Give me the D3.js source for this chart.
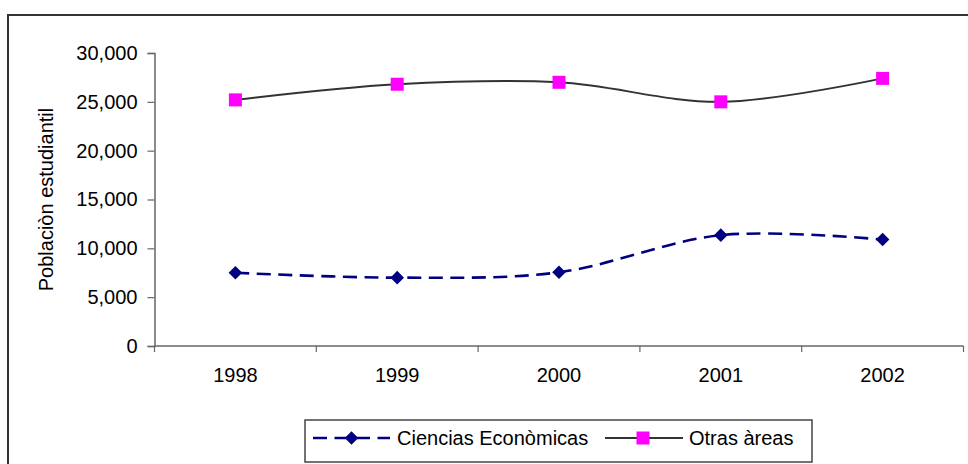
<!DOCTYPE html>
<html>
<head>
<meta charset="utf-8">
<script src="https://cdn.jsdelivr.net/npm/d3@7"></script>
<style>
  html, body { margin: 0; padding: 0; background: #fff; }
  svg { display: block; }
  text { font-family: Arial, "Liberation Sans", sans-serif; fill: #000; }
</style>
</head>
<body>
<svg id="chart" width="968" height="464"></svg>
<script>
// Student population by year
const years = ["1998", "1999", "2000", "2001", "2002"];
const cienciasEconomicas = [7500, 7000, 7550, 11350, 10900];
const otrasAreas = [25200, 26800, 27000, 25000, 27400];
const yTicks = [0, 5000, 10000, 15000, 20000, 25000, 30000];
const seriesNames = ["Ciencias Econòmicas", "Otras àreas"];
const yTitle = "Poblaciòn estudiantil";

const svg = d3.select("#chart");
const W = 968, H = 464;

// outer chart frame (runs off the right and bottom edges)
svg.append("rect")
  .attr("x", 8).attr("y", 15)
  .attr("width", 1000).attr("height", 500)
  .attr("fill", "none").attr("stroke", "#333").attr("stroke-width", 2);

const plot = { left: 154.5, right: 963.5, top: 53, bottom: 346 };

const x = d3.scaleBand().domain(years).range([plot.left, plot.right]).padding(0);
const y = d3.scaleLinear().domain([0, 30000]).range([plot.bottom, plot.top]);

const axisColor = "#666";

// y axis
const yAxis = svg.append("g")
  .attr("transform", `translate(${plot.left},0)`)
  .call(d3.axisLeft(y).tickValues(yTicks).tickFormat(d3.format(",")).tickSize(7).tickPadding(10));
yAxis.select(".domain").attr("stroke", axisColor).attr("stroke-width", 1.5);
yAxis.selectAll(".tick line").attr("stroke", axisColor).attr("stroke-width", 1.2);
yAxis.selectAll(".tick text")
  .attr("font-size", 20).attr("fill", "#000")
  .style("font-family", "Arial, 'Liberation Sans', sans-serif");

// x axis: labels centred on categories, ticks at category boundaries
const xAxis = svg.append("g")
  .attr("transform", `translate(0,${plot.bottom})`)
  .call(d3.axisBottom(x).tickSize(0).tickPadding(22));
xAxis.select(".domain").remove();
xAxis.selectAll(".tick text")
  .attr("font-size", 20).attr("fill", "#000")
  .style("font-family", "Arial, 'Liberation Sans', sans-serif");

const boundaries = years.map(d => x(d)).concat([x(years[years.length - 1]) + x.bandwidth()]);
svg.append("line")
  .attr("x1", plot.left).attr("x2", plot.right)
  .attr("y1", plot.bottom).attr("y2", plot.bottom)
  .attr("stroke", axisColor).attr("stroke-width", 1.5);
svg.append("g").selectAll("line").data(boundaries).join("line")
  .attr("x1", d => d).attr("x2", d => d)
  .attr("y1", plot.bottom).attr("y2", plot.bottom + 6)
  .attr("stroke", axisColor).attr("stroke-width", 1.2);

// y axis title
svg.append("text")
  .attr("transform", `translate(53,${(plot.top + plot.bottom) / 2}) rotate(-90)`)
  .attr("text-anchor", "middle")
  .attr("font-size", 20)
  .text(yTitle);

// series lines
const line = d3.line()
  .x((d, i) => x(years[i]) + x.bandwidth() / 2)
  .y(d => y(d))
  .curve(d3.curveCatmullRom.alpha(0));

const navy = "#000080", magenta = "#FF00FF";
const dash = "14,7.5";

svg.append("path").datum(otrasAreas)
  .attr("d", line).attr("fill", "none")
  .attr("stroke", "#333").attr("stroke-width", 2);

svg.append("path").datum(cienciasEconomicas)
  .attr("d", line).attr("fill", "none")
  .attr("stroke", navy).attr("stroke-width", 2.6)
  .attr("stroke-dasharray", dash);

const diamond = d3.symbol().type(d3.symbolSquare).size(92);

svg.append("g").selectAll("path").data(cienciasEconomicas).join("path")
  .attr("d", diamond)
  .attr("transform", (d, i) => `translate(${x(years[i]) + x.bandwidth() / 2},${y(d)}) rotate(45)`)
  .attr("fill", navy);

svg.append("g").selectAll("rect").data(otrasAreas).join("rect")
  .attr("x", (d, i) => x(years[i]) + x.bandwidth() / 2 - 6.5)
  .attr("y", d => y(d) - 6.5)
  .attr("width", 13).attr("height", 13)
  .attr("fill", magenta);

// legend
const lg = svg.append("g");
lg.append("rect")
  .attr("x", 305).attr("y", 420).attr("width", 507).attr("height", 42)
  .attr("fill", "#fff").attr("stroke", "#444").attr("stroke-width", 1.5);

const ly = 438;
lg.append("line")
  .attr("x1", 313).attr("x2", 390).attr("y1", ly).attr("y2", ly)
  .attr("stroke", navy).attr("stroke-width", 2.6).attr("stroke-dasharray", dash);
lg.append("path")
  .attr("d", diamond)
  .attr("transform", `translate(351.5,${ly}) rotate(45)`)
  .attr("fill", navy);
lg.append("text")
  .attr("x", 397).attr("y", ly).attr("dy", "0.35em")
  .attr("font-size", 20)
  .text(seriesNames[0]);

lg.append("line")
  .attr("x1", 605).attr("x2", 683).attr("y1", ly).attr("y2", ly)
  .attr("stroke", "#333").attr("stroke-width", 2);
lg.append("rect")
  .attr("x", 643 - 6.5).attr("y", ly - 6.5).attr("width", 13).attr("height", 13)
  .attr("fill", magenta);
lg.append("text")
  .attr("x", 689).attr("y", ly).attr("dy", "0.35em")
  .attr("font-size", 20)
  .text(seriesNames[1]);
</script>
</body>
</html>
